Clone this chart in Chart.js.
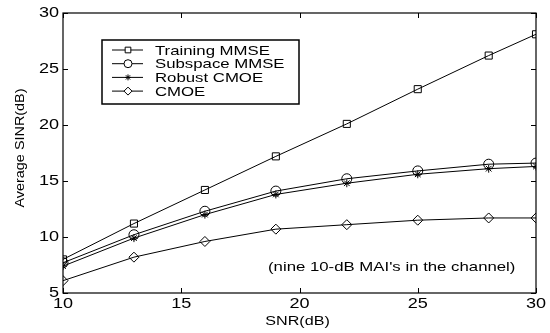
<!DOCTYPE html>
<html>
<head>
<meta charset="utf-8">
<script src="https://cdn.jsdelivr.net/npm/chart.js@4.4.1/dist/chart.umd.min.js"></script>
<style>
  html, body { margin: 0; padding: 0; background: #fff; }
  #wrap { width: 550px; height: 333px; }
</style>
</head>
<body>
<div id="wrap"><canvas id="snrChart" width="550" height="333"></canvas></div>
<script>
const snr = [10, 13, 16, 19, 22, 25, 28, 30];
const trainingMmse = [8.0, 11.2, 14.2, 17.2, 20.1, 23.2, 26.2, 28.1];
const subspaceMmse = [7.7, 10.2, 12.3, 14.1, 15.2, 15.9, 16.5, 16.6];
const robustCmoe = [7.4, 9.9, 12.0, 13.8, 14.8, 15.6, 16.1, 16.3];
const cmoe = [6.1, 8.2, 9.6, 10.7, 11.1, 11.5, 11.7, 11.7];
const seriesNames = ['Training MMSE', 'Subspace MMSE', 'Robust CMOE', 'CMOE'];
const markerStyles = ['rect', 'circle', 'star', 'rectRot'];
const xTicks = [10, 15, 20, 25, 30];
const yTicks = [5, 10, 15, 20, 25, 30];
const xTitle = 'SNR(dB)';
const yTitle = 'Average SINR(dB)';
const note = "(nine 10-dB MAI's in the channel)";

const FONT = 'Arial, "Liberation Sans", sans-serif';
const SX = 1.29; // the original figure is stretched sideways

function makeSet(i, values, radius) {
    return {
        label: seriesNames[i],
        data: snr.map((x, k) => ({ x: x, y: values[k] })),
        borderColor: '#000',
        borderWidth: 1,
        backgroundColor: 'rgba(0,0,0,0)',
        pointStyle: markerStyles[i],
        pointRadius: radius,
        pointBorderColor: '#000',
        pointBorderWidth: 1,
        pointBackgroundColor: 'rgba(0,0,0,0)',
        tension: 0
    };
}

function wideText(ctx, text, x, y, align, size) {
    ctx.save();
    ctx.translate(x, y);
    ctx.scale(SX, 1);
    ctx.font = size + 'px ' + FONT;
    ctx.textAlign = align;
    ctx.textBaseline = 'middle';
    ctx.fillStyle = '#000';
    ctx.fillText(text, 0, 0);
    ctx.restore();
}

// frame, inward ticks, labels, legend box and note
const extras = {
    id: 'extras',
    afterDraw(c) {
        const ctx = c.ctx, a = c.chartArea;
        const xs = c.scales.x, ys = c.scales.y;
        ctx.save();
        ctx.strokeStyle = '#000';
        ctx.lineWidth = 1.2;
        ctx.strokeRect(a.left, a.top, a.right - a.left, a.bottom - a.top);
        ctx.lineWidth = 1;
        ctx.beginPath();
        xTicks.forEach(v => {
            const px = Math.round(xs.getPixelForValue(v)) + 0.5;
            ctx.moveTo(px, a.bottom); ctx.lineTo(px, a.bottom - 5);
            ctx.moveTo(px, a.top); ctx.lineTo(px, a.top + 5);
        });
        yTicks.forEach(v => {
            const py = Math.round(ys.getPixelForValue(v)) + 0.5;
            ctx.moveTo(a.left, py); ctx.lineTo(a.left + 5, py);
            ctx.moveTo(a.right, py); ctx.lineTo(a.right - 5, py);
        });
        ctx.stroke();

        xTicks.forEach(v => wideText(ctx, String(v), xs.getPixelForValue(v), a.bottom + 11, 'center', 14));
        yTicks.forEach(v => wideText(ctx, String(v), a.left - 4, ys.getPixelForValue(v), 'right', 14));
        wideText(ctx, xTitle, (a.left + a.right) / 2 - 2, 322, 'center', 12.5);

        ctx.save();
        ctx.translate(21, 148);
        ctx.rotate(-Math.PI / 2);
        ctx.scale(1.2, 1);
        ctx.font = '12px ' + FONT;
        ctx.textAlign = 'center';
        ctx.textBaseline = 'middle';
        ctx.fillStyle = '#000';
        ctx.fillText(yTitle, 0, 0);
        ctx.restore();

        // legend
        const lx = 102, ly = 40, lw = 197, lh = 64;
        ctx.fillStyle = '#fff';
        ctx.fillRect(lx, ly, lw, lh);
        ctx.strokeStyle = '#000';
        ctx.lineWidth = 1.5;
        ctx.strokeRect(lx, ly, lw, lh);
        c.data.datasets.forEach((ds, i) => {
            const y = ly + 10 + i * 13.7;
            ctx.lineWidth = 1;
            ctx.strokeStyle = '#000';
            ctx.beginPath();
            ctx.moveTo(lx + 10, y); ctx.lineTo(lx + 41, y);
            ctx.stroke();
            ctx.fillStyle = '#fff';
            Chart.helpers.drawPoint(ctx, {
                pointStyle: ds.pointStyle, radius: ds.pointStyle === 'star' ? 3 : 4, borderWidth: 1, rotation: 0
            }, lx + 26, y);
            wideText(ctx, ds.label, lx + 53, y + 1, 'left', 13);
        });

        wideText(ctx, note, 268, 267, 'left', 13);
        ctx.restore();
    }
};

const chart = new Chart(document.getElementById('snrChart'), {
    type: 'line',
    data: {
        datasets: [
            makeSet(0, trainingMmse, 5),
            makeSet(1, subspaceMmse, 5),
            makeSet(2, robustCmoe, 4),
            makeSet(3, cmoe, 5)
        ]
    },
    options: {
        responsive: false,
        animation: false,
        layout: { padding: { left: 63, right: 14, top: 13, bottom: 40 } },
        plugins: { legend: { display: false }, tooltip: { enabled: false } },
        scales: {
            x: { type: 'linear', min: 10, max: 30, display: false },
            y: { min: 5, max: 30, display: false }
        }
    },
    plugins: [extras]
});
</script>
</body>
</html>
